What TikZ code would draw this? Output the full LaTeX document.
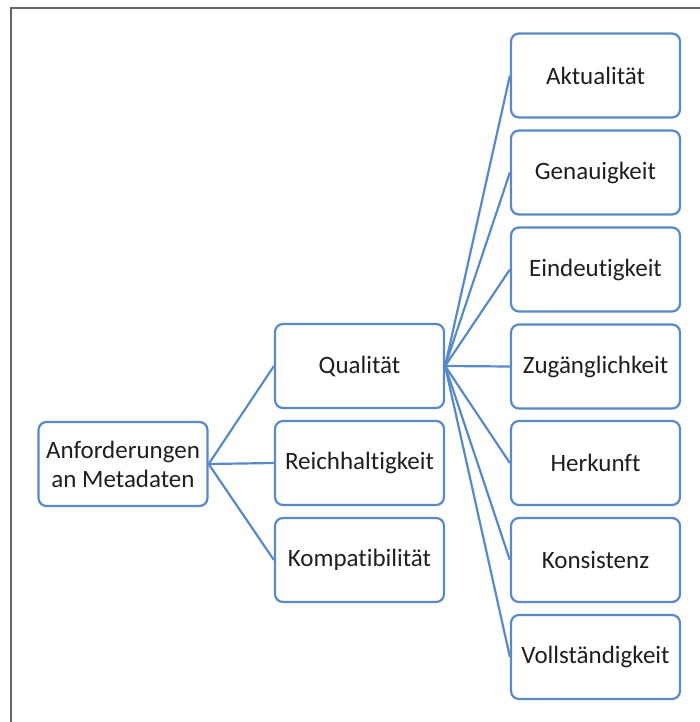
\documentclass[tikz,border=0pt]{standalone}
\usepackage{fontspec}
\setmainfont[Ligatures=NoCommon]{Carlito}
\begin{document}
\begin{tikzpicture}[x=1pt,y=-1pt,
  box/.style={draw=boxblue, line width=2.2pt, rounded corners=8pt, fill=white,
    minimum width=169pt, minimum height=84pt, align=center, inner sep=2pt,
    font=\fontsize{25}{29}\selectfont, text=black!88},
  link/.style={draw=boxblue, line width=2.2pt}]
\definecolor{boxblue}{HTML}{5A8AC6}
\useasboundingbox (0,0) rectangle (700,722);
\begin{scope}
  \clip (0,0) rectangle (700,722);
  \draw[line width=2.2pt, draw=black!60] (11,8) rectangle (760,780);
\end{scope}
% tree root
\node[box] (root) at (123,464) {Anforderungen\\an Metadaten};
% second level
\node[box] (q) at (359.5,366) {Qualität};
\node[box] (r) at (359.5,463) {Reichhaltigkeit};
\node[box] (k) at (359.5,560) {Kompatibilität};
% quality criteria
\node[box] (a1) at (595.5,75.5) {Aktualität};
\node[box] (a2) at (595.5,172.5) {Genauigkeit};
\node[box] (a3) at (595.5,269.5) {Eindeutigkeit};
\node[box] (a4) at (595.5,366.5) {Zugänglichkeit};
\node[box] (a5) at (595.5,463) {Herkunft};
\node[box] (a6) at (595.5,560) {Konsistenz};
\node[box] (a7) at (595.5,657) {Vollständigkeit};
% connectors
\foreach \c in {q,r,k} \draw[link] (root.east) -- (\c.west);
\foreach \c in {a1,a2,a3,a4,a5,a6,a7} \draw[link] (q.east) -- (\c.west);
\end{tikzpicture}
\end{document}
